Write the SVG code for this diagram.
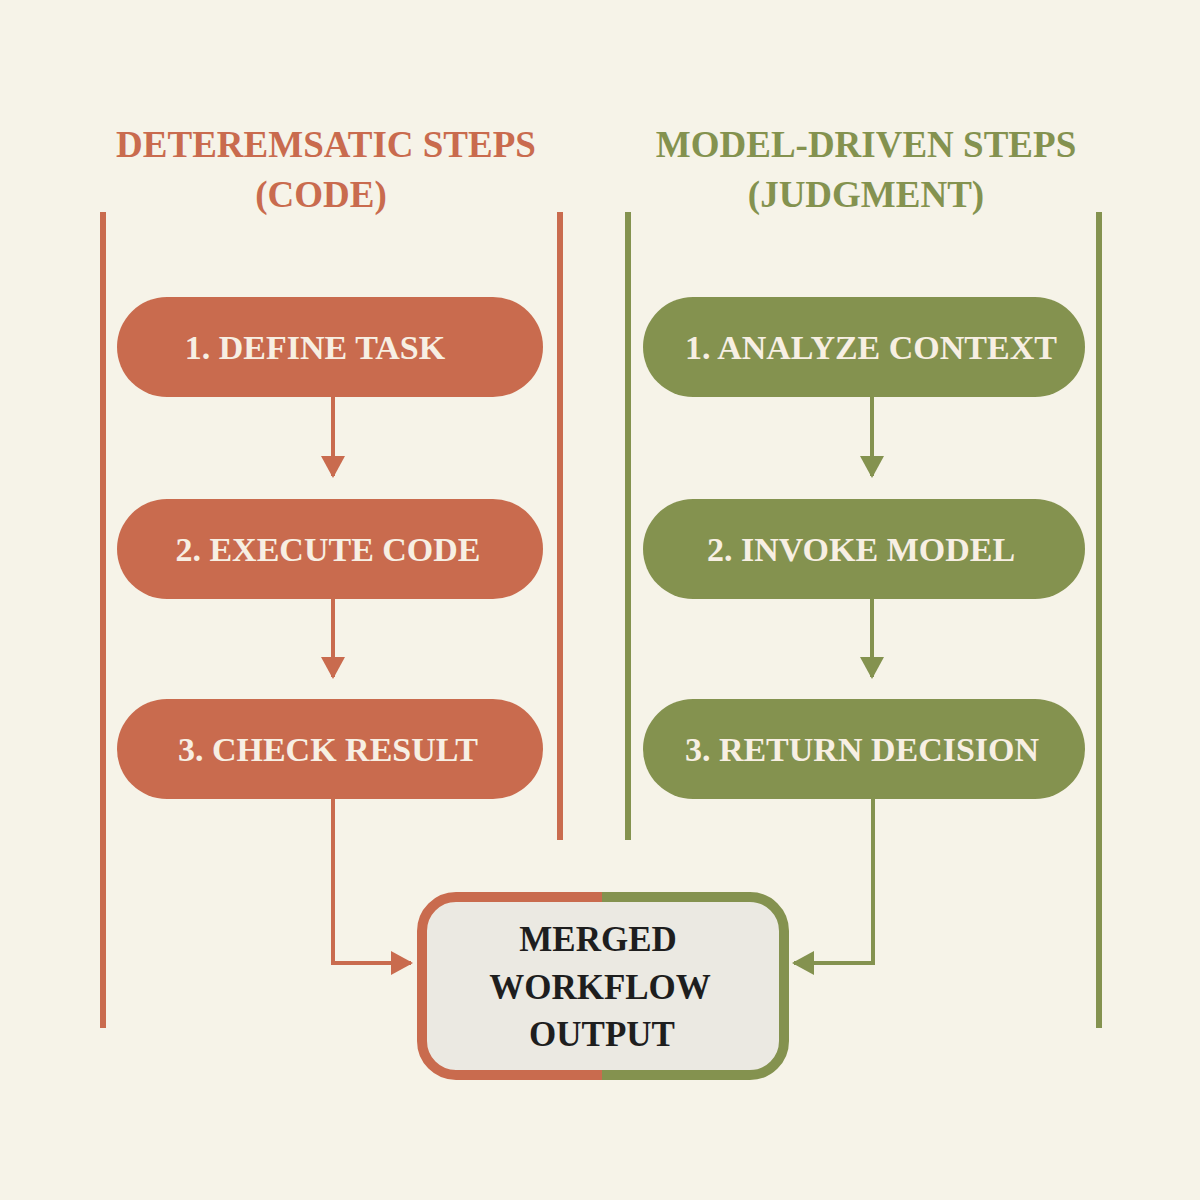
<svg xmlns="http://www.w3.org/2000/svg" width="1200" height="1200" viewBox="0 0 1200 1200">
<defs>
<style>
.t{font-family:"Liberation Serif","DejaVu Serif",serif;font-weight:bold;text-anchor:middle}
.o{fill:#c96b4e}.g{fill:#84924f}
.pt{font-size:34px;fill:#f7efe3}
.h{font-size:37px}
.lo{stroke:#c96b4e;stroke-width:6;fill:none}
.lg{stroke:#84924f;stroke-width:6;fill:none}
.c{stroke-width:4}
</style>
<marker id="ao" markerWidth="10" markerHeight="10" refX="8" refY="5" orient="auto" markerUnits="userSpaceOnUse" viewBox="0 0 10 10"><path d="M0,0L10,5L0,10z" fill="#c96b4e"/></marker>
<marker id="ag" markerWidth="10" markerHeight="10" refX="8" refY="5" orient="auto" markerUnits="userSpaceOnUse" viewBox="0 0 10 10"><path d="M0,0L10,5L0,10z" fill="#84924f"/></marker>
<marker id="bo" markerWidth="24" markerHeight="24" refX="20" refY="12" orient="auto" markerUnits="userSpaceOnUse"><path d="M0,0L22,12L0,24z" fill="#c96b4e"/></marker>
<marker id="bg" markerWidth="24" markerHeight="24" refX="20" refY="12" orient="auto" markerUnits="userSpaceOnUse"><path d="M0,0L22,12L0,24z" fill="#84924f"/></marker>
</defs>
<rect width="1200" height="1200" fill="#f6f3e8"/>
<g id="lanes">
<line class="lo" x1="103" y1="212" x2="103" y2="1028"/>
<line class="lo" x1="560" y1="212" x2="560" y2="840"/>
<line class="lg" x1="628" y1="212" x2="628" y2="840"/>
<line class="lg" x1="1099" y1="212" x2="1099" y2="1028"/>
</g>
<g id="headers">
<text class="t h o" x="326" y="157">DETEREMSATIC STEPS</text>
<text class="t h o" x="321" y="207">(CODE)</text>
<text class="t h g" x="866" y="157">MODEL-DRIVEN STEPS</text>
<text class="t h g" x="866" y="207">(JUDGMENT)</text>
</g>
<g id="connectors">
<line class="lo c" x1="333" y1="397" x2="333" y2="476" marker-end="url(#bo)"/>
<line class="lo c" x1="333" y1="599" x2="333" y2="677" marker-end="url(#bo)"/>
<line class="lg c" x1="872" y1="397" x2="872" y2="476" marker-end="url(#bg)"/>
<line class="lg c" x1="872" y1="599" x2="872" y2="677" marker-end="url(#bg)"/>
<polyline class="lo c" points="333,799 333,963 411,963" marker-end="url(#bo)"/>
<polyline class="lg c" points="873,799 873,963 794,963" marker-end="url(#bg)"/>
</g>
<g id="o1"><rect class="o" x="117" y="297" width="426" height="100" rx="50"/><text class="t pt" x="315" y="359">1. DEFINE TASK</text></g>
<g id="o2"><rect class="o" x="117" y="499" width="426" height="100" rx="50"/><text class="t pt" x="328" y="561">2. EXECUTE CODE</text></g>
<g id="o3"><rect class="o" x="117" y="699" width="426" height="100" rx="50"/><text class="t pt" x="328" y="761">3. CHECK RESULT</text></g>
<g id="g1"><rect class="g" x="643" y="297" width="442" height="100" rx="50"/><text class="t pt" x="871" y="359">1. ANALYZE CONTEXT</text></g>
<g id="g2"><rect class="g" x="643" y="499" width="442" height="100" rx="50"/><text class="t pt" x="861" y="561">2. INVOKE MODEL</text></g>
<g id="g3"><rect class="g" x="643" y="699" width="442" height="100" rx="50"/><text class="t pt" x="862" y="761">3. RETURN DECISION</text></g>
<g id="merged">
<clipPath id="cl"><rect x="400" y="880" width="202" height="220"/></clipPath>
<clipPath id="cr"><rect x="602" y="880" width="200" height="220"/></clipPath>
<rect x="422" y="897" width="362" height="178" rx="34" fill="#ebe9e2"/>
<rect x="422" y="897" width="362" height="178" rx="34" fill="none" stroke="#c96b4e" stroke-width="10" clip-path="url(#cl)"/>
<rect x="422" y="897" width="362" height="178" rx="34" fill="none" stroke="#84924f" stroke-width="10" clip-path="url(#cr)"/>
<text class="t" font-size="35" fill="#1e1e1e" x="598" y="951">MERGED</text>
<text class="t" font-size="35" fill="#1e1e1e" x="600" y="999">WORKFLOW</text>
<text class="t" font-size="35" fill="#1e1e1e" x="602" y="1046">OUTPUT</text>
</g>
</svg>
